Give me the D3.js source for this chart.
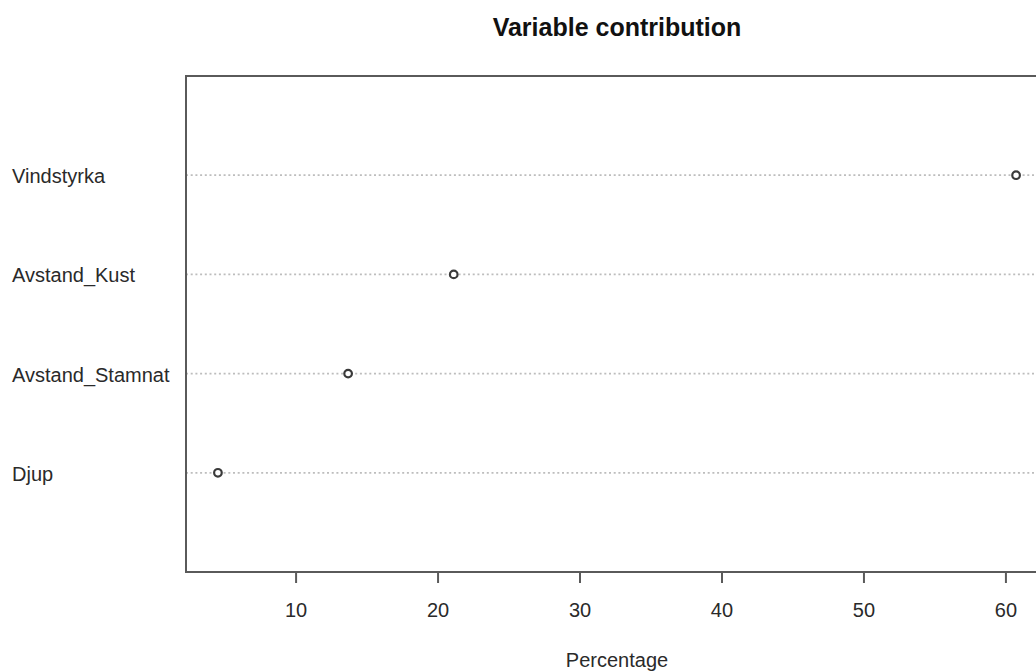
<!DOCTYPE html>
<html>
<head>
<meta charset="utf-8">
<script src="https://cdn.jsdelivr.net/npm/d3@7"></script>
<style>
  html, body { margin: 0; padding: 0; background: #fff; }
  svg { display: block; font-family: "Liberation Sans", Arial, sans-serif; }
</style>
</head>
<body>
<svg id="chart" width="1036" height="672"></svg>
<script>
// Data (top-to-bottom order as displayed)
const categories = ["Vindstyrka", "Avstand_Kust", "Avstand_Stamnat", "Djup"];
const values = [60.75, 21.14, 13.7, 4.53];
const tickValues = [10, 20, 30, 40, 50, 60];
const titleText = "Variable contribution";
const xLabel = "Percentage";

const svg = d3.select("#chart");
const plot = { left: 186, right: 1048, top: 76, bottom: 572 };

// R dotchart style: xlim extended by 4%
const [vmin, vmax] = d3.extent(values);
const pad = (vmax - vmin) * 0.04;
const x = d3.scaleLinear().domain([vmin - pad, vmax + pad]).range([plot.left, plot.right]);
// rows at 1..n, ylim 0..n+1 ; first category at top
const n = categories.length;
const y = d3.scaleLinear().domain([0, n + 1]).range([plot.bottom, plot.top]);
const rowPos = (i) => y(n - i);

// dotted guide lines
svg.append("g").selectAll("line").data(categories).join("line")
  .attr("x1", plot.left).attr("x2", plot.right)
  .attr("y1", (d, i) => rowPos(i)).attr("y2", (d, i) => rowPos(i))
  .attr("stroke", "#bdbdbd").attr("stroke-width", 1.8)
  .attr("stroke-dasharray", "2,2.7");

// plot box
svg.append("rect")
  .attr("x", plot.left).attr("y", plot.top)
  .attr("width", plot.right - plot.left).attr("height", plot.bottom - plot.top)
  .attr("fill", "none").attr("stroke", "#5a5a5a").attr("stroke-width", 2);

// x axis
const xAxis = d3.axisBottom(x).tickValues(tickValues).tickSize(11).tickPadding(20).tickFormat(d3.format("d"));
const gx = svg.append("g").attr("transform", `translate(0,${plot.bottom})`).call(xAxis);
gx.select(".domain").remove();
gx.selectAll(".tick line").attr("stroke", "#5a5a5a").attr("stroke-width", 2);
gx.selectAll(".tick text").attr("font-size", 20).attr("fill", "#2a2a2a")
  .attr("font-family", "Liberation Sans, Arial, sans-serif").attr("dy", "0.71em");

// category labels
svg.append("g").selectAll("text").data(categories).join("text")
  .attr("x", 12).attr("y", (d, i) => rowPos(i) + 8)
  .attr("font-size", 20).attr("fill", "#2a2a2a")
  .text(d => d);

// points
svg.append("g").selectAll("circle").data(values).join("circle")
  .attr("cx", d => x(d)).attr("cy", (d, i) => rowPos(i))
  .attr("r", 3.8).attr("fill", "#fff")
  .attr("stroke", "#3a3a3a").attr("stroke-width", 2.2);

// title
svg.append("text").attr("x", (plot.left + plot.right) / 2).attr("y", 36)
  .attr("text-anchor", "middle").attr("font-size", 25).attr("font-weight", "bold")
  .attr("fill", "#111").text(titleText);

// x label
svg.append("text").attr("x", (plot.left + plot.right) / 2).attr("y", 667)
  .attr("text-anchor", "middle").attr("font-size", 20).attr("fill", "#2a2a2a")
  .text(xLabel);
</script>
</body>
</html>
